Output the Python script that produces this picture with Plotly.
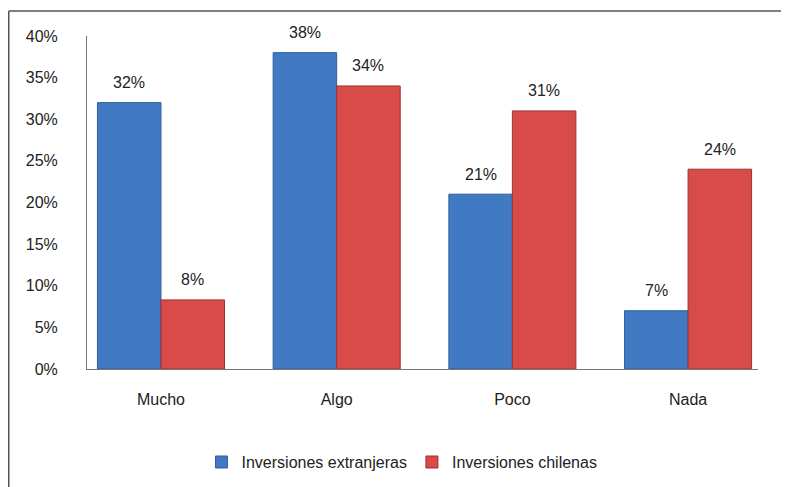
import plotly.graph_objects as go

categories = ["Mucho", "Algo", "Poco", "Nada"]
extranjeras = [0.32, 0.38, 0.21, 0.07]
chilenas = [0.083, 0.34, 0.31, 0.24]
series_names = ["Inversiones extranjeras", "Inversiones chilenas"]
y_ticks = [0, 0.05, 0.10, 0.15, 0.20, 0.25, 0.30, 0.35, 0.40]
y_ticklabels = ["0%", "5%", "10%", "15%", "20%", "25%", "30%", "35%", "40%"]

BLUE = "#4279c3"
BLUE_LINE = "#2f5f9e"
RED = "#d84b49"
RED_LINE = "#9e3130"
FONT = "Liberation Sans, Arial, sans-serif"
TEXT = "#222222"

fig = go.Figure()
fig.add_bar(x=categories, y=extranjeras, name=series_names[0],
            marker=dict(color=BLUE, line=dict(color=BLUE_LINE, width=1)))
fig.add_bar(x=categories, y=chilenas, name=series_names[1],
            marker=dict(color=RED, line=dict(color=RED_LINE, width=1)))

half = 31.75
annotations = []
for cat, v in zip(categories, extranjeras):
    annotations.append(dict(x=cat, y=v, xref="x", yref="y", text=f"{round(v*100)}%",
                            showarrow=False, xshift=-half, yshift=20, yanchor="middle",
                            font=dict(size=16, color=TEXT, family=FONT)))
for cat, v in zip(categories, chilenas):
    annotations.append(dict(x=cat, y=v, xref="x", yref="y", text=f"{round(v*100)}%",
                            showarrow=False, xshift=half, yshift=20, yanchor="middle",
                            font=dict(size=16, color=TEXT, family=FONT)))

# page body has an 8px default margin
W, H = 781, 479
ml, mr, mt, mb = 79, 31, 28, 118
pw, ph = W - ml - mr, H - mt - mb
bx0 = (0.75 - ml) / pw
by1 = 1 + (mt - 3) / ph

fig.update_layout(
    width=W, height=H,
    margin=dict(l=ml, r=mr, t=mt, b=mb, pad=0, autoexpand=False),
    paper_bgcolor="white", plot_bgcolor="white",
    font=dict(family=FONT, size=16, color=TEXT),
    barmode="group", bargap=0.277, bargroupgap=0,
    showlegend=True,
    legend=dict(orientation="h", xref="container", yref="container",
                x=0.5045, xanchor="center", y=0.052, yanchor="middle",
                font=dict(size=16, color=TEXT, family=FONT), itemwidth=30,
                traceorder="normal"),
    annotations=annotations,
    shapes=[
        dict(type="line", xref="paper", yref="paper", x0=bx0, x1=1 + (mr + 5) / pw,
             y0=by1, y1=by1, line=dict(color="#555555", width=1.5)),
        dict(type="line", xref="paper", yref="paper", x0=bx0, x1=bx0,
             y0=by1, y1=-(mb + 5) / ph, line=dict(color="#555555", width=1.5)),
    ],
)
fig.update_xaxes(type="category", range=[-0.421, 3.398], showline=True,
                 linecolor="#777777", linewidth=1, showgrid=False, ticks="",
                 ticklabelstandoff=16, tickfont=dict(size=16, color=TEXT, family=FONT))
fig.update_yaxes(range=[0, 0.40], tickvals=y_ticks, ticktext=y_ticklabels,
                 showline=True, linecolor="#777777", linewidth=1, showgrid=False,
                 zeroline=False, ticks="", ticklabelstandoff=25,
                 tickfont=dict(size=16, color=TEXT, family=FONT))

fig.write_html("out.html")
